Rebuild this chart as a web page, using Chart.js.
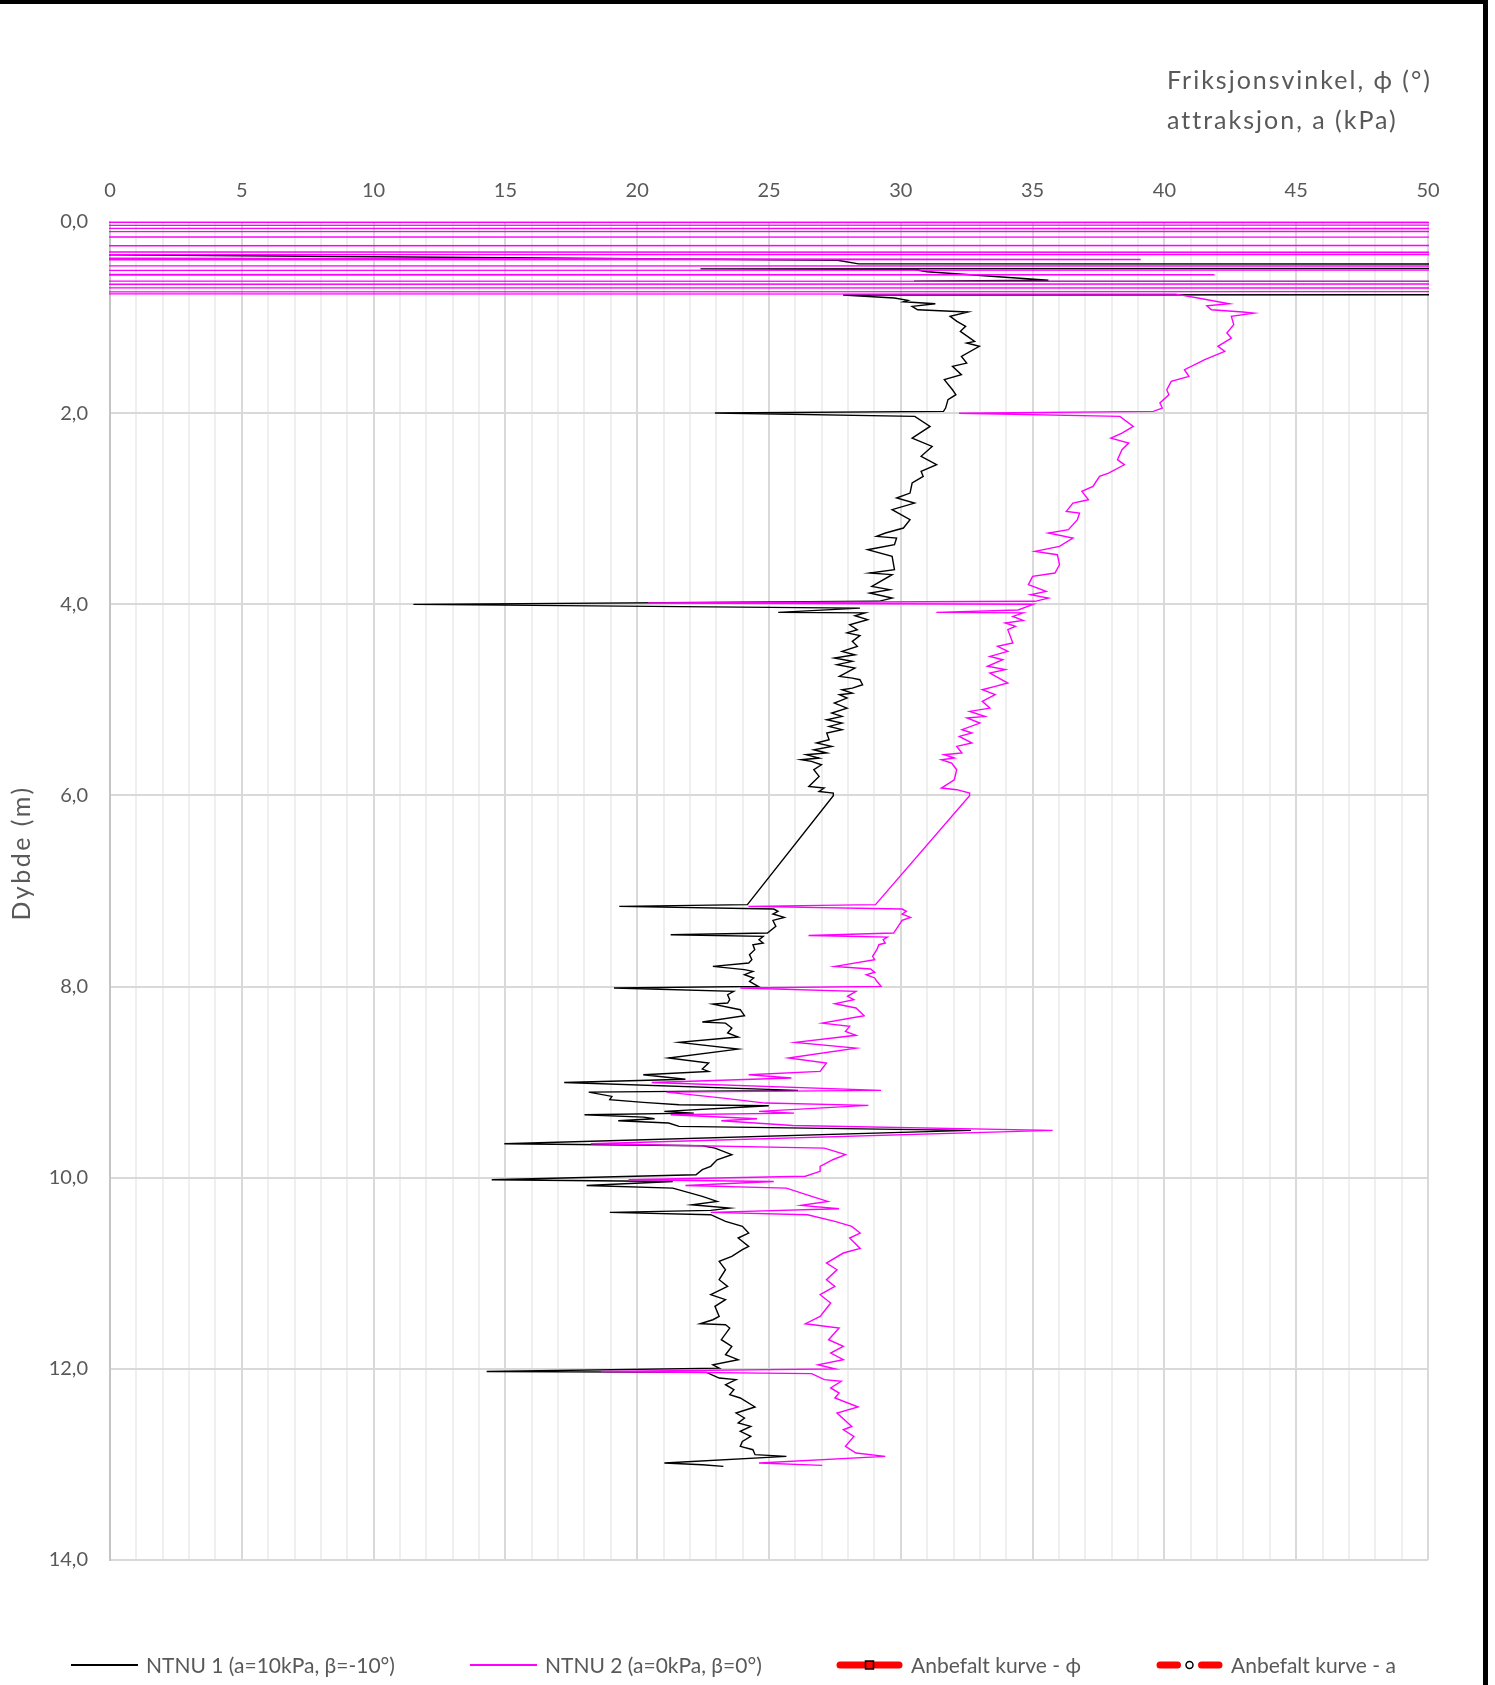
<!DOCTYPE html>
<html>
<head>
<meta charset="utf-8">
<script src="https://cdn.jsdelivr.net/npm/chart.js@4.4.1/dist/chart.umd.min.js"></script>
<style>
  html, body { margin: 0; padding: 0; background: #fff; }
  #wrap { position: relative; width: 1495px; height: 1685px; overflow: hidden; }
  #c { position: absolute; left: 0; top: 0; }
  #frame { position: absolute; left: -10px; top: 0; width: 1498px; height: 1720px;
           border-top: 4px solid #000; border-right: 5px solid #000; box-sizing: border-box; pointer-events: none; }
</style>
</head>
<body>
<div id="wrap">
  <canvas id="c" width="1495" height="1685"></canvas>
  <div id="frame"></div>
</div>
<script>
// Friction angle profiles against depth (values off the 0-50 scale are start-up artefacts).
const NTNU1_LABEL = 'NTNU 1 (a=10kPa, β=-10°)';
const NTNU2_LABEL = 'NTNU 2 (a=0kPa, β=0°)';
const REC_PHI_LABEL = 'Anbefalt kurve - ϕ';
const REC_A_LABEL = 'Anbefalt kurve - a';

const NTNU1_DEPTH = [
  0.30, 0.337, 0.40, 0.438, 0.447, 0.472, 0.49, 0.497, 0.52, 0.61, 0.62, 0.63, 0.745,
  0.764, 0.795, 0.82, 0.835, 0.855, 0.883, 0.918, 0.942, 0.987, 1.04, 1.092, 1.144, 1.249, 1.266, 1.301,
  1.406, 1.476, 1.51, 1.598, 1.65, 1.755, 1.807, 1.859, 1.947, 1.982, 1.999, 2.034, 2.139, 2.261, 2.348,
  2.452, 2.54, 2.609, 2.662, 2.731, 2.836, 2.888, 2.941, 3.01, 3.115, 3.202, 3.254, 3.289, 3.307, 3.376,
  3.429, 3.499, 3.638, 3.673, 3.69, 3.812, 3.847, 3.882, 3.935, 3.969,
  4.001, 4.04, 4.085, 4.09, 4.12, 4.161, 4.214, 4.266, 4.3, 4.328, 4.388, 4.44, 4.493, 4.528, 4.562,
  4.597, 4.632, 4.667, 4.754, 4.772, 4.789, 4.842, 4.877, 4.894, 4.929, 4.946, 4.981, 5.034, 5.086,
  5.138, 5.173, 5.208, 5.243, 5.278, 5.312, 5.347, 5.417, 5.452, 5.487, 5.522, 5.556, 5.574, 5.609,
  5.626, 5.644, 5.679, 5.731, 5.801, 5.906, 5.923, 5.958, 5.975, 6.003,
  7.143, 7.161, 7.189, 7.213, 7.241, 7.276, 7.308, 7.37, 7.44, 7.457, 7.475, 7.51, 7.544, 7.562, 7.614,
  7.666, 7.719, 7.754, 7.789, 7.823, 7.841, 7.876, 7.91, 7.945, 7.998,
  8.015, 8.05, 8.085, 8.137, 8.172, 8.183, 8.242, 8.305, 8.37, 8.382, 8.434, 8.486, 8.528, 8.584, 8.654,
  8.748, 8.8, 8.863, 8.888, 8.923, 8.969,
  9.003, 9.086, 9.104, 9.149, 9.184, 9.212, 9.236, 9.247, 9.306, 9.324, 9.341, 9.366, 9.383, 9.404,
  9.428, 9.463, 9.505, 9.645, 9.665, 9.69, 9.759, 9.812, 9.881, 9.916, 9.969,
  10.021, 10.039, 10.081, 10.109, 10.196, 10.248, 10.283, 10.318, 10.342, 10.363, 10.387, 10.457,
  10.509, 10.579, 10.631, 10.718, 10.753, 10.823, 10.875, 10.963, 11.067, 11.137, 11.224, 11.276,
  11.346, 11.451, 11.486, 11.528, 11.538, 11.573, 11.695, 11.765, 11.852, 11.904, 11.957, 11.992,
  12.027, 12.037, 12.096, 12.113, 12.166, 12.218, 12.27, 12.305, 12.399, 12.462, 12.514, 12.567,
  12.602, 12.654, 12.706, 12.759, 12.811, 12.846, 12.898, 12.916, 12.985, 13.003, 13.02
];
const NTNU1_PHI = [
  -60, -3, 27.6, 28.4, 150, 150, 22.4, 30.5, 31.0, 35.6, 30.5, 150, 150,
  27.81, 29.76, 30.27, 30.1, 31.31, 30.43, 30.64, 32.55, 31.87, 32.13, 32.46, 32.26, 32.8, 32.5, 32.98,
  32.3, 32.5, 31.96, 32.3, 31.65, 31.96, 32.09, 31.79, 31.7, 31.62, 22.95, 30.53, 31.11, 30.43, 31.19,
  30.77, 31.36, 30.77, 30.85, 30.43, 30.35, 29.84, 30.52, 29.67, 30.35, 30.1, 29.42, 29.08, 29.84, 29.76,
  28.74, 29.67, 29.76, 28.82, 29.67, 28.9, 29.58, 28.82, 29.67, 29.16,
  11.51, 28.45, 25.35, 28.64, 28.26, 28.74, 28.06, 28.35, 27.96, 28.45, 28.16, 28.35, 27.77, 28.26, 27.48,
  28.16, 27.58, 28.26, 27.67, 28.16, 28.45, 28.55, 28.16, 27.77, 28.16, 27.67, 27.96, 27.48, 27.96,
  27.38, 27.77, 27.19, 27.77, 27.28, 27.77, 27.19, 27.28, 26.8, 27.38, 26.7, 27.19, 26.41, 26.9,
  26.22, 26.61, 26.99, 26.7, 26.9, 26.51, 27.09, 26.9, 27.44, 27.44,
  24.18, 19.32, 25.18, 25.34, 25.15, 25.58, 25.15, 25.26, 24.94, 21.27, 24.78, 24.62, 24.78, 24.39, 24.46,
  24.26, 24.35, 24.23, 22.87, 24.07, 24.39, 24.07, 24.42, 24.26, 24.59,
  19.12, 23.66, 23.43, 23.51, 23.43, 22.87, 23.91, 24.07, 22.47, 23.35, 23.59, 23.43, 23.83, 21.59, 23.83,
  21.19, 22.71, 22.47, 22.71, 20.23, 21.83,
  17.23, 26.1, 18.16, 19.04, 18.96, 20.23, 21.59, 24.99, 21.03, 22.15, 18.0, 20.23, 20.66, 19.28,
  21.19, 21.59, 32.66, 14.96, 22.47, 22.95, 23.59, 23.03, 22.79, 22.47, 22.23,
  14.48, 21.35, 18.08, 21.35, 22.47, 23.03, 22.07, 23.51, 22.79, 18.96, 22.79, 23.35,
  23.99, 24.23, 23.83, 24.23, 23.99, 23.59, 23.11, 23.35, 23.11, 23.43, 22.79, 23.35,
  22.95, 23.11, 22.87, 22.39, 23.35, 23.51, 23.19, 23.59, 23.35, 23.83, 22.87, 23.11,
  14.29, 22.63, 23.11, 23.75, 23.35, 23.67, 23.51, 23.91, 24.47, 23.75, 24.07, 23.83,
  24.31, 23.91, 24.31, 23.99, 23.91, 24.39, 24.47, 25.66, 21.03, 22.47, 23.27
];

const NTNU2_DEPTH = [
  0.000, 0.010, 0.030, 0.038, 0.063, 0.071, 0.096, 0.104, 0.153, 0.161, 0.243, 0.251, 0.311, 0.319,
  0.336, 0.345, 0.392, 0.405, 0.455, 0.465, 0.50, 0.51, 0.54, 0.552, 0.565, 0.615, 0.625, 0.645, 0.655,
  0.685, 0.695, 0.725, 0.735, 0.745,
  0.755, 0.795, 0.855, 0.876, 0.918, 0.942, 0.953, 0.987, 1.074, 1.162, 1.214, 1.301, 1.353, 1.44,
  1.476, 1.545, 1.615, 1.667, 1.755, 1.807, 1.894, 1.947, 1.982, 2.001, 2.034, 2.139, 2.208, 2.261,
  2.313, 2.383, 2.487, 2.54, 2.627, 2.662, 2.766, 2.818, 2.906, 2.941, 3.028, 3.045, 3.115, 3.219,
  3.254, 3.307, 3.394, 3.446, 3.481, 3.586, 3.673, 3.708, 3.795, 3.865, 3.9, 3.935, 3.969, 3.987,
  4.0, 4.06, 4.085, 4.09, 4.127, 4.168, 4.196, 4.231, 4.266, 4.405, 4.44, 4.493, 4.545, 4.58, 4.649,
  4.684, 4.719, 4.824, 4.859, 4.894, 4.946, 5.016, 5.086, 5.121, 5.173, 5.19, 5.243, 5.312, 5.347,
  5.382, 5.452, 5.487, 5.556, 5.574, 5.609, 5.626, 5.661, 5.731, 5.836, 5.923, 5.94, 5.975, 6.003,
  7.143, 7.161, 7.189, 7.213, 7.241, 7.276, 7.308, 7.44, 7.465, 7.482, 7.51, 7.544, 7.562, 7.614,
  7.684, 7.719, 7.789, 7.816, 7.85, 7.876, 7.91, 7.945, 7.998,
  8.015, 8.05, 8.102, 8.137, 8.179, 8.224, 8.305, 8.382, 8.416, 8.469, 8.51, 8.584, 8.644, 8.748,
  8.8, 8.887, 8.922, 8.957,
  9.003, 9.086, 9.104, 9.167, 9.219, 9.243, 9.306, 9.324, 9.341, 9.383, 9.404, 9.453, 9.505, 9.645,
  9.69, 9.759, 9.812, 9.881, 9.933, 9.985,
  10.021, 10.039, 10.081, 10.109, 10.196, 10.248, 10.29, 10.325, 10.363, 10.387, 10.457, 10.509,
  10.579, 10.631, 10.74, 10.788, 10.893, 10.963, 11.067, 11.137, 11.224, 11.311, 11.451, 11.528,
  11.573, 11.695, 11.765, 11.835, 11.904, 11.957, 12.0,
  12.027, 12.05, 12.113, 12.13, 12.2, 12.253, 12.305, 12.399, 12.462, 12.602, 12.637, 12.706, 12.811,
  12.881, 12.916, 12.985, 13.01
];
const NTNU2_PHI = [
  -100, 150, 150, -100, -100, 150, 150, -100, -100, 150, 150, -100, -100, 150,
  150, -100, 39.1, -100, -100, 150, 150, -100, -100, 41.9, -100, -100, 150, 150, -100,
  -100, 150, 150, -100, -100,
  40.43, 41.27, 42.46, 41.61, 41.78, 42.97, 43.39, 42.54, 42.63, 42.37, 42.54, 42.03, 42.29, 41.53,
  41.27, 40.76, 40.93, 40.26, 40.09, 40.17, 39.83, 39.92, 39.58, 32.21, 38.31, 38.82, 38.39, 37.97,
  38.65, 38.39, 38.22, 38.48, 37.88, 37.54, 37.29, 36.87, 37.12, 36.53, 36.28, 36.78, 36.7, 36.36,
  35.6, 36.53, 36.02, 35.09, 35.94, 36.02, 35.85, 35.0, 34.84, 35.51, 34.92, 35.6, 35.09, 20.41,
  35.03, 34.45, 31.35, 34.64, 34.25, 34.64, 33.96, 34.35, 34.06, 34.25, 33.67, 34.06, 33.38, 33.87, 33.29,
  33.96, 33.38, 34.06, 33.58, 33.09, 33.58, 33.09, 33.38, 32.61, 33.19, 32.51, 33.0, 32.32, 32.7,
  32.22, 32.7, 32.12, 32.32, 31.64, 32.03, 31.54, 31.93, 32.12, 32.03, 31.54, 32.12, 32.61, 32.61,
  29.04, 24.22, 30.05, 30.21, 30.05, 30.37, 30.05, 29.73, 26.5, 29.49, 29.33, 29.41, 29.17, 29.09,
  28.93, 29.01, 27.5, 28.85, 29.01, 28.69, 29.01, 29.09, 29.25,
  23.91, 28.3, 27.98, 28.22, 27.5, 28.3, 28.61, 27.02, 28.06, 27.9, 28.3, 26.0, 28.3, 25.74,
  27.18, 26.94, 24.23, 25.85,
  20.55, 29.25, 21.11, 23.27, 24.86, 28.77, 24.62, 25.95, 21.27, 24.55, 23.19, 25.9, 35.76, 18.24,
  27.1, 27.9, 27.42, 26.94, 26.94, 26.38,
  19.67, 25.18, 21.83, 25.66, 26.62, 27.23, 26.22, 27.66, 22.79, 26.46, 27.5, 28.14,
  28.46, 28.06, 28.46, 27.82, 27.18, 27.58, 27.18, 27.5, 26.94, 27.34, 26.94, 26.38,
  27.66, 27.26, 27.82, 27.34, 27.82, 26.86, 27.5,
  18.63, 26.62, 27.1, 27.74, 27.34, 27.66, 27.5, 28.38, 27.58, 28.14, 27.82, 28.22, 27.9,
  28.3, 29.41, 24.62, 27.02
];

const X_MIN = 0, X_MAX = 50, X_MINOR_STEP = 1, X_LABEL_STEP = 5;
const Y_MIN = 0, Y_MAX = 14, Y_STEP = 2;
const X_TITLE = ['Friksjonsvinkel, ϕ (°)', 'attraksjon, a (kPa)'];
const Y_TITLE = 'Dybde (m)';

function toPoints(depths, values) {
  return depths.map((d, i) => ({ x: values[i], y: d }));
}

const FONT = 'Lato';
const TEXT_COLOR = '#595959';

function setSpacing(ctx, px) {
  if ('letterSpacing' in ctx) ctx.letterSpacing = px + 'px';
}

// Axis titles are drawn next to the plot rather than centred on the axes.
const axisTitles = {
  id: 'axisTitles',
  afterDraw(chart) {
    const ctx = chart.ctx;
    ctx.save();
    ctx.fillStyle = TEXT_COLOR;
    ctx.font = `25px ${FONT}`;
    setSpacing(ctx, 2);
    ctx.textAlign = 'left';
    ctx.textBaseline = 'middle';
    ctx.fillText(X_TITLE[0], 1167, 81);
    ctx.fillText(X_TITLE[1], 1167, 121);
    setSpacing(ctx, 2.5);
    ctx.translate(22, 853);
    ctx.rotate(-Math.PI / 2);
    ctx.textAlign = 'center';
    ctx.fillText(Y_TITLE, 0, 0);
    setSpacing(ctx, 0);
    ctx.restore();
  }
};

// Legend row under the plot: line sample (with optional marker) followed by the series name.
const bottomLegend = {
  id: 'bottomLegend',
  afterDraw(chart, args, opts) {
    const ctx = chart.ctx;
    const y = opts.y;
    ctx.save();
    ctx.font = `21px ${FONT}`;
    ctx.textBaseline = 'middle';
    ctx.textAlign = 'left';
    chart.data.datasets.forEach((ds, i) => {
      const x0 = opts.starts[i];
      const w = opts.sampleWidth;
      ctx.lineCap = ds.legendCap || 'butt';
      ctx.strokeStyle = ds.borderColor;
      ctx.lineWidth = ds.legendLineWidth;
      ctx.setLineDash([]);
      if (ds.legendMarker === 'circle') {
        ctx.beginPath();
        ctx.moveTo(x0 + 4, y); ctx.lineTo(x0 + w / 2 - 12, y);
        ctx.moveTo(x0 + w / 2 + 12, y); ctx.lineTo(x0 + w - 4, y);
        ctx.stroke();
        ctx.beginPath();
        ctx.arc(x0 + w / 2, y, 3.5, 0, Math.PI * 2);
        ctx.fillStyle = '#fff';
        ctx.fill();
        ctx.lineWidth = 1.5;
        ctx.strokeStyle = '#000';
        ctx.stroke();
      } else {
        const inset = ds.legendCap === 'round' ? 4 : 0;
        ctx.beginPath();
        ctx.moveTo(x0 + inset, y); ctx.lineTo(x0 + w - inset, y);
        ctx.stroke();
        if (ds.legendMarker === 'rect') {
          ctx.fillStyle = ds.borderColor;
          ctx.fillRect(x0 + w / 2 - 4, y - 4, 8, 8);
          ctx.lineWidth = 1.5;
          ctx.strokeStyle = '#000';
          ctx.strokeRect(x0 + w / 2 - 4, y - 4, 8, 8);
        }
      }
      ctx.fillStyle = TEXT_COLOR;
      ctx.fillText(ds.label, x0 + w + 8, y + 1);
    });
    ctx.restore();
  }
};

function draw() {
  new Chart(document.getElementById('c'), {
    type: 'scatter',
    data: {
      datasets: [
        { label: NTNU1_LABEL, data: toPoints(NTNU1_DEPTH, NTNU1_PHI), showLine: true,
          borderColor: '#000000', borderWidth: 1.4, pointRadius: 0, order: 2, clip: 1,
          legendLineWidth: 2 },
        { label: NTNU2_LABEL, data: toPoints(NTNU2_DEPTH, NTNU2_PHI), showLine: true,
          borderColor: '#ff00ff', borderWidth: 1.4, pointRadius: 0, order: 1, clip: 1,
          legendLineWidth: 2 },
        { label: REC_PHI_LABEL, data: [], showLine: true, borderColor: '#ff0000', borderWidth: 6,
          pointRadius: 0, legendLineWidth: 7, legendCap: 'round', legendMarker: 'rect' },
        { label: REC_A_LABEL, data: [], showLine: true, borderColor: '#ff0000', borderWidth: 6,
          pointRadius: 0, legendLineWidth: 7, legendCap: 'round', legendMarker: 'circle' }
      ]
    },
    options: {
      responsive: false,
      animation: false,
      devicePixelRatio: 1,
      layout: { padding: { left: 0, top: 0, right: 67, bottom: 125 } },
      elements: { line: { tension: 0 } },
      plugins: {
        legend: { display: false },
        tooltip: { enabled: false },
        bottomLegend: { y: 1665, sampleWidth: 67, starts: [71, 470, 836, 1156] }
      },
      scales: {
        x: {
          type: 'linear', position: 'top', min: X_MIN, max: X_MAX,
          afterFit: s => { s.height = 222; },
          ticks: {
            stepSize: X_MINOR_STEP, autoSkip: false, maxRotation: 0, padding: 19,
            color: TEXT_COLOR, font: { family: FONT, size: 20 },
            callback: v => (v % X_LABEL_STEP === 0 ? String(v) : '')
          },
          grid: {
            drawTicks: false,
            color: c => (c.tick && c.tick.value % X_LABEL_STEP === 0 ? '#d9d9d9' : '#efefef'),
            lineWidth: 2
          },
          border: { display: false }
        },
        y: {
          type: 'linear', reverse: true, min: Y_MIN, max: Y_MAX,
          afterFit: s => { s.width = 110; },
          ticks: {
            stepSize: Y_STEP, padding: 22, color: TEXT_COLOR, font: { family: FONT, size: 20 },
            callback: v => v.toFixed(1).replace('.', ',')
          },
          grid: { drawTicks: false, color: '#d9d9d9', lineWidth: 2 },
          border: { display: true, color: '#c4c4c4', width: 2 }
        }
      }
    },
    plugins: [axisTitles, bottomLegend]
  });
}

if (document.fonts && document.fonts.load) {
  Promise.all([document.fonts.load(`20px ${FONT}`), document.fonts.load(`25px ${FONT}`)])
    .then(draw, draw);
} else {
  draw();
}
</script>
</body>
</html>
